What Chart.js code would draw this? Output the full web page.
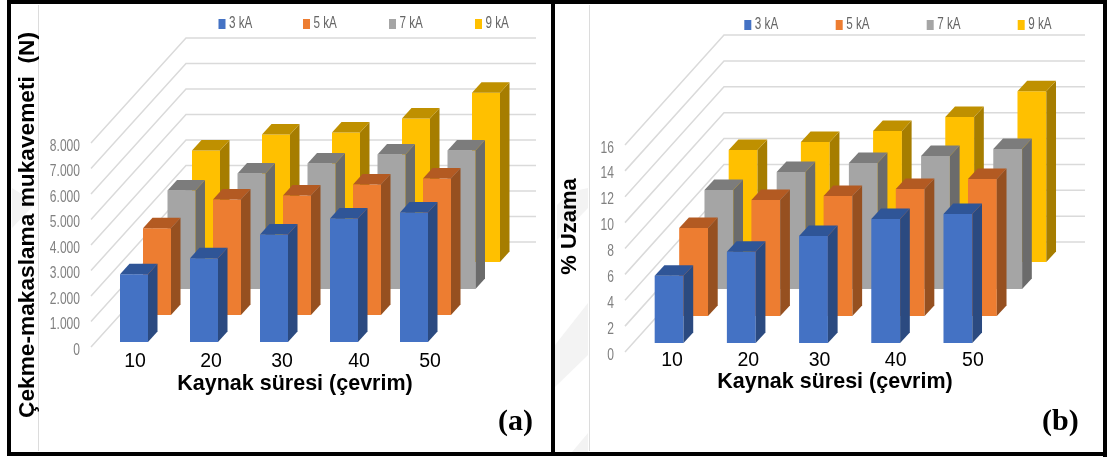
<!DOCTYPE html>
<html>
<head>
<meta charset="utf-8">
<script src="https://cdn.jsdelivr.net/npm/chart.js@4"></script>
<style>
html,body{margin:0;padding:0;background:#fff;width:1109px;height:457px;overflow:hidden}
canvas{position:absolute;top:0}
svg{position:absolute;left:0;top:0}
.b{position:absolute;background:#000;z-index:5}
.v{position:absolute;background:#dcdcdc;width:1px;top:5px;height:446px}
</style>
</head>
<body>
<svg width="1109" height="457">
  <g fill="#f3f3f3">
    <polygon points="12,188 36,203 12,228"/>
    <polygon points="557,205 570,192 588,188 588,208 557,240"/>
    <polygon points="588,303 588,355 555,387 555,345"/>
    <polygon points="588,433 588,452 572,452"/>
  </g>
</svg>
<div class="v" style="left:38px"></div>
<div class="v" style="left:589px"></div>
<canvas id="a" width="552" height="457" style="left:0"></canvas>
<canvas id="b" width="557" height="457" style="left:552px"></canvas>
<div class="b" style="left:7px;top:0;width:1100px;height:4px"></div>
<div class="b" style="left:7px;top:0;width:4px;height:456px"></div>
<div class="b" style="left:551px;top:0;width:4px;height:456px"></div>
<div class="b" style="left:1103px;top:0;width:4px;height:457px"></div>
<div class="b" style="left:7px;top:452px;width:1100px;height:4px"></div>
<script>
const categories = ['10', '20', '30', '40', '50'];
const seriesNames = ['3 kA', '5 kA', '7 kA', '9 kA'];

const force3kA = [2656, 3281, 4219, 4844, 5078];
const force5kA = [3398, 4531, 4688, 5117, 5352];
const force7kA = [3867, 4531, 4922, 5273, 5430];
const force9kA = [4375, 5000, 5078, 5625, 6641];

const elong3kA = [5.2, 7.06, 8.27, 9.58, 9.97];
const elong5kA = [6.8, 8.96, 9.27, 9.81, 10.59];
const elong7kA = [7.65, 9.04, 9.74, 10.28, 10.82];
const elong9kA = [8.66, 9.27, 10.12, 11.2, 13.2];

const forceTicks = ['0', '1.000', '2.000', '3.000', '4.000', '5.000', '6.000', '7.000', '8.000'];
const elongTicks = ['0', '2', '4', '6', '8', '10', '12', '14', '16'];

const frontColors = ['#4472C4', '#ED7D31', '#A5A5A5', '#FFC000'];
const sideColors = ['#2B4A80', '#965020', '#6B6B6B', '#A67D00'];
const topColors = ['#2F5597', '#B35A22', '#7C7C7C', '#BF9000'];

const arial = '"Liberation Sans",Arial,sans-serif';
const NARROW = 0.73;

function panel(id, cfg) {
  const plugin = {
    id: 'oblique3d',
    afterLayout(chart) {
      const x = chart.scales.x, y = chart.scales.y;
      if (x._patched) return;
      x._patched = true;
      const base = x.getPixelForTick;
      x.getPixelForTick = function (i) { return base.call(this, i) + cfg.labelNudge[i]; };
      [[x, cfg.xTitleShift, 0], [y, 0, cfg.yTitleShift]].forEach(([s, dx, dy]) => {
        const draw = s.drawTitle;
        s.drawTitle = function () {
          const c = this.ctx;
          c.save(); c.translate(dx, dy); draw.call(this); c.restore();
        };
      });
      const labels = y.drawLabels;
      y.drawLabels = function (area) {
        const c = this.ctx, xr = this.right - cfg.yPad;
        c.save();
        c.translate(xr, cfg.yLabelShift); c.scale(NARROW, 1); c.translate(-xr, 0);
        labels.call(this, area);
        c.restore();
      };
    },
    beforeDatasetsDraw(chart) {
      const c = chart.ctx, y = chart.scales.y, a = chart.chartArea;
      c.save();
      c.strokeStyle = '#dadada';
      c.lineWidth = 1.5;
      y.ticks.forEach(t => {
        const py = y.getPixelForValue(t.value);
        c.beginPath();
        c.moveTo(a.left, py);
        c.lineTo(a.left + cfg.wallDx, py + cfg.wallDy);
        c.lineTo(a.right + cfg.wallDx, py + cfg.wallDy);
        c.stroke();
      });
      c.restore();
    },
    beforeDatasetDraw(chart, args) {
      const s = cfg.shift[args.index];
      chart.ctx.save();
      chart.ctx.translate(s[0], s[1]);
    },
    afterDatasetDraw(chart, args) {
      const c = chart.ctx, i = args.index;
      args.meta.data.forEach(bar => {
        const p = bar.getProps(['x', 'y', 'base', 'width'], true);
        const l = p.x - p.width / 2, r = p.x + p.width / 2;
        const dx = cfg.faceDx, dy = cfg.faceDy;
        c.fillStyle = sideColors[i];
        c.beginPath();
        c.moveTo(r, p.y); c.lineTo(r + dx, p.y + dy);
        c.lineTo(r + dx, p.base + dy); c.lineTo(r, p.base);
        c.closePath(); c.fill();
        c.fillStyle = topColors[i];
        c.beginPath();
        c.moveTo(l, p.y); c.lineTo(l + dx, p.y + dy);
        c.lineTo(r + dx, p.y + dy); c.lineTo(r, p.y);
        c.closePath(); c.fill();
      });
      c.restore();
    },
    afterDraw(chart) {
      const c = chart.ctx;
      c.save();
      c.textBaseline = 'middle';
      c.textAlign = 'left';
      chart.data.datasets.forEach((d, i) => {
        c.fillStyle = d.backgroundColor;
        c.fillRect(cfg.legendX[i], cfg.legendY - 5, 7, 10);
        c.save();
        c.translate(cfg.legendX[i] + 10.5, cfg.legendY);
        c.scale(NARROW, 1);
        c.fillStyle = '#666666';
        c.font = '16px ' + arial;
        c.fillText(d.label, 0, 0);
        c.restore();
      });
      c.font = 'bold 30px "Liberation Serif","Times New Roman",serif';
      c.fillStyle = '#000';
      c.fillText(cfg.tag, cfg.tagX, 422);
      c.restore();
    }
  };

  return new Chart(document.getElementById(id), {
    type: 'bar',
    plugins: [plugin],
    data: {
      labels: categories,
      datasets: cfg.values.map((v, i) => ({
        label: seriesNames[i],
        data: v,
        backgroundColor: frontColors[i],
        borderWidth: 0,
        grouped: false,
        clip: false,
        barPercentage: cfg.barShare,
        categoryPercentage: 1
      }))
    },
    options: {
      responsive: false,
      animation: false,
      events: [],
      layout: { padding: { top: cfg.top, right: cfg.right, left: 0, bottom: 0 } },
      plugins: { legend: { display: false }, tooltip: { enabled: false } },
      scales: {
        x: {
          grid: { display: false, drawTicks: false },
          border: { display: false },
          ticks: { color: '#000', font: { family: arial, size: 19.5 }, padding: cfg.xPad, maxRotation: 0, autoSkip: false },
          title: { display: true, text: 'Kaynak süresi (çevrim)', color: '#000',
                   font: { family: arial, size: 21.5, weight: 'bold' }, padding: { top: 0, bottom: cfg.xTitleBottom } },
          afterFit(s) { s.height = cfg.xHeight; }
        },
        y: {
          min: 0,
          max: cfg.max,
          grid: { display: false, drawTicks: false },
          border: { display: false },
          ticks: {
            stepSize: cfg.step, color: '#808080', padding: cfg.yPad,
            font: { family: arial, size: 16.5 },
            callback: (v) => cfg.tickLabels[Math.round(v / cfg.step)]
          },
          title: { display: true, text: cfg.yTitle, color: '#000',
                   font: { family: arial, size: cfg.yTitleSize, weight: 'bold' }, padding: { top: cfg.yTitleTop, bottom: 0 } },
          afterFit(s) { s.width = cfg.yWidth; }
        }
      }
    }
  });
}

panel('a', {
  values: [force3kA, force5kA, force7kA, force9kA],
  tickLabels: forceTicks, max: 8000, step: 1000, barShare: 0.4,
  yTitle: 'Çekme-makaslama mukavemeti  (N)', yTitleSize: 22.7, tag: '(a)', tagX: 498,
  top: 143, right: 111, xHeight: 110, yWidth: 91, xPad: 2.5, yPad: 11, yLabelShift: 3,
  xTitleBottom: 60, yTitleTop: 14, xTitleShift: 29, yTitleShift: -20,
  labelNudge: [9, 15, 16, 23, 24],
  wallDx: 95, wallDy: -105,
  shift: [[8, -5], [31, -32], [55.5, -58], [80, -85]],
  faceDx: 9.5, faceDy: -10.5,
  legendX: [218.5, 303, 389, 475], legendY: 24
});

panel('b', {
  values: [elong3kA, elong5kA, elong7kA, elong9kA],
  tickLabels: elongTicks, max: 16, step: 2, barShare: 0.405,
  yTitle: '% Uzama', yTitleSize: 22, tag: '(b)', tagX: 490,
  top: 145, right: 123, xHeight: 105, yWidth: 73, xPad: -3.5, yPad: 11, yLabelShift: 3,
  xTitleBottom: 62, yTitleTop: 5, xTitleShift: 29.5, yTitleShift: -22,
  labelNudge: [11, 15, 14, 18, 23],
  wallDx: 99, wallDy: -110,
  shift: [[8, -9], [32.5, -36], [57.8, -63], [82, -90]],
  faceDx: 9.7, faceDy: -10.5,
  legendX: [192.3, 283.7, 374.7, 465.7], legendY: 25
});
</script>
</body>
</html>
